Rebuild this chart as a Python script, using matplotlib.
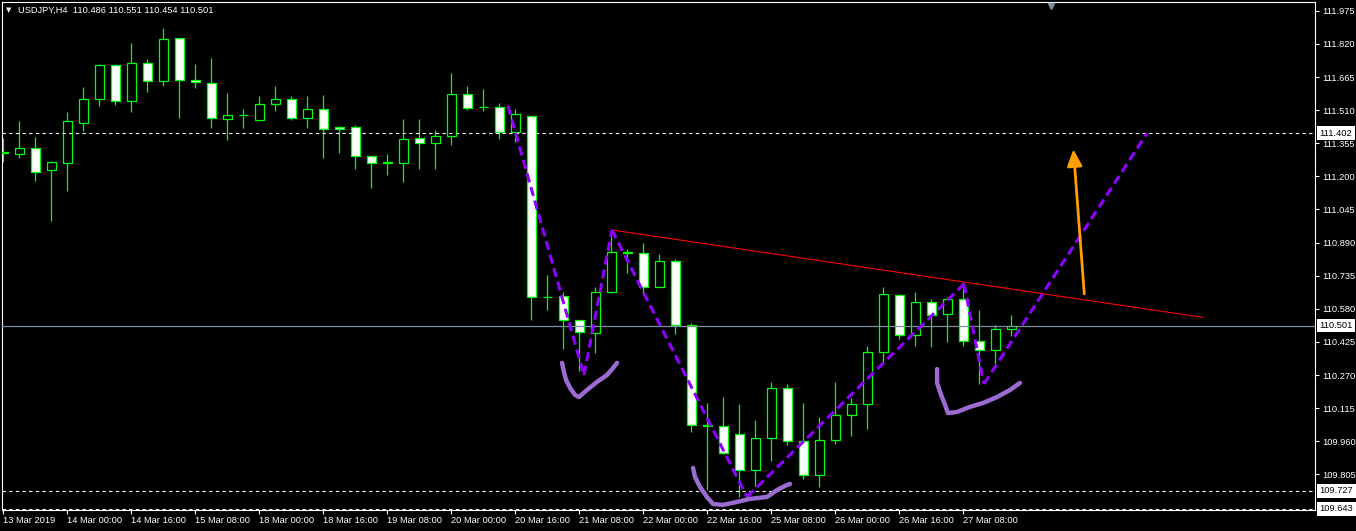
import numpy as np
import matplotlib.pyplot as plt
from matplotlib.transforms import blended_transform_factory

plt.rcParams['font.family'] = ['Liberation Sans', 'DejaVu Sans']

# USDJPY H4 bars (first bar = 13 Mar 2019 08:00)
opens = [111.310, 111.305, 111.333, 111.230, 111.263, 111.450, 111.563, 111.722,
         111.553, 111.731, 111.647, 111.848, 111.652, 111.638, 111.469, 111.488,
         111.464, 111.539, 111.563, 111.474, 111.516, 111.431, 111.431, 111.296,
         111.263, 111.263, 111.380, 111.357, 111.389, 111.586, 111.525, 111.525,
         111.408, 111.483, 110.636, 110.640, 110.528, 110.467, 110.659, 110.846,
         110.842, 110.682, 110.804, 110.504, 110.036, 110.032, 109.994, 109.826,
         109.975, 110.210, 109.961, 109.802, 109.966, 110.083, 110.135, 110.378,
         110.645, 110.458, 110.612, 110.556, 110.626, 110.430, 110.387, 110.486]
highs = [111.380, 111.460, 111.385, 111.272, 111.502, 111.619, 111.724, 111.724,
         111.825, 111.750, 111.895, 111.848, 111.726, 111.755, 111.591, 111.516,
         111.577, 111.623, 111.577, 111.577, 111.581, 111.436, 111.441, 111.296,
         111.305, 111.469, 111.469, 111.417, 111.684, 111.623, 111.609, 111.544,
         111.516, 111.483, 110.739, 110.659, 110.528, 110.682, 110.949, 110.860,
         110.888, 110.837, 110.814, 110.514, 110.139, 110.167, 110.135, 110.060,
         110.238, 110.228, 110.139, 110.074, 110.238, 110.163, 110.406, 110.682,
         110.650, 110.659, 110.626, 110.636, 110.706, 110.575, 110.504, 110.551]
lows = [111.268, 111.286, 111.179, 110.991, 111.132, 111.413, 111.530, 111.535,
        111.502, 111.595, 111.623, 111.474, 111.614, 111.427, 111.371, 111.427,
        111.464, 111.506, 111.464, 111.427, 111.286, 111.310, 111.235, 111.146,
        111.207, 111.174, 111.235, 111.235, 111.347, 111.511, 111.506, 111.375,
        111.361, 110.528, 110.575, 110.392, 110.289, 110.373, 110.654, 110.748,
        110.645, 110.682, 110.462, 110.004, 109.732, 109.900, 109.699, 109.751,
        109.868, 109.940, 109.783, 109.746, 109.947, 109.985, 110.018, 110.327,
        110.439, 110.406, 110.401, 110.425, 110.406, 110.228, 110.317, 110.454]
closes = [111.314, 111.333, 111.221, 111.268, 111.460, 111.563, 111.722, 111.553,
          111.731, 111.647, 111.844, 111.652, 111.642, 111.474, 111.488, 111.488,
          111.539, 111.563, 111.474, 111.516, 111.422, 111.422, 111.296, 111.263,
          111.268, 111.375, 111.357, 111.389, 111.586, 111.520, 111.525, 111.408,
          111.492, 110.636, 110.636, 110.528, 110.472, 110.659, 110.846, 110.842,
          110.682, 110.804, 110.504, 110.036, 110.032, 109.905, 109.826, 109.975,
          110.210, 109.961, 109.802, 109.966, 110.083, 110.135, 110.378, 110.650,
          110.458, 110.612, 110.551, 110.626, 110.430, 110.387, 110.486, 110.501]

time_labels = ['13 Mar 2019', '14 Mar 00:00', '14 Mar 16:00', '15 Mar 08:00',
               '18 Mar 00:00', '18 Mar 16:00', '19 Mar 08:00', '20 Mar 00:00',
               '20 Mar 16:00', '21 Mar 08:00', '22 Mar 00:00', '22 Mar 16:00',
               '25 Mar 08:00', '26 Mar 00:00', '26 Mar 16:00', '27 Mar 08:00']
price_ticks = [111.975, 111.820, 111.665, 111.510, 111.355, 111.200, 111.045,
               110.890, 110.735, 110.580, 110.425, 110.270, 110.115, 109.960, 109.805]

# drawn objects (bar index, price)
zigzag_x = [31.54, 36.29, 38.04, 46.48, 60.04, 61.29, 71.48]
zigzag_p = [111.530, 110.270, 110.949, 109.699, 110.696, 110.228, 111.402]
neck_x = [38.04, 74.96]
neck_p = [110.949, 110.540]
arrow_from = (67.56, 110.650)
arrow_to = (66.88, 111.327)
brush1 = [(34.92, 110.327), (35.04, 110.284), (35.17, 110.247), (35.42, 110.210),
          (35.73, 110.177), (35.98, 110.167), (36.48, 110.200), (37.11, 110.238),
          (37.73, 110.270), (38.11, 110.303), (38.36, 110.327)]
brush2 = [(43.11, 109.835), (43.23, 109.793), (43.54, 109.746), (43.98, 109.699),
          (44.36, 109.666), (44.98, 109.662), (45.86, 109.676), (46.67, 109.690),
          (47.73, 109.699), (48.36, 109.732), (48.98, 109.755), (49.17, 109.760)]
brush3 = [(58.36, 110.298), (58.36, 110.233), (58.61, 110.177), (58.86, 110.130),
          (59.04, 110.092), (59.61, 110.097), (60.42, 110.121), (61.23, 110.139),
          (62.11, 110.167), (62.92, 110.200), (63.54, 110.233)]
dashed_levels = [111.402, 109.727, 109.643]
bid = 110.501

W, H = 1356, 531
fig = plt.figure(figsize=(W / 100, H / 100), dpi=100, facecolor='black')
ax = fig.add_axes([2.3 / W, (H - 510) / H, (1315 - 2.3) / W, (510 - 2.3) / H],
                  facecolor='black')

idx = np.arange(len(opens))
o = np.array(opens)
c = np.array(closes)
bull = c >= o
ax.vlines(idx, lows, highs, color='#00ff00', lw=0.9, zorder=2)
ax.bar(idx, np.abs(c - o), bottom=np.minimum(o, c), width=0.6,
       color=np.where(bull, 'black', 'white'), edgecolor='#00ff00',
       linewidth=0.9, zorder=3)

for lvl in dashed_levels:
    ax.axhline(lvl, color='white', lw=0.8, ls=(0, (3, 3)), zorder=4)
ax.axhline(bid, color='#7f8fa0', lw=0.9, zorder=4)

# pattern drawings
for i in range(len(zigzag_x) - 1):
    ax.plot(zigzag_x[i:i + 2], zigzag_p[i:i + 2], color='#8f00ff', lw=2.2,
            ls=(0, (3, 1.6)), zorder=6)
ax.plot(neck_x, neck_p, color='#ff0000', lw=0.8, zorder=5)
ax.annotate('', xy=arrow_to, xytext=arrow_from,
            arrowprops=dict(arrowstyle='-|>,head_length=1.0,head_width=0.45',
                            color='#ffa000', lw=2, shrinkA=0, shrinkB=0),
            zorder=6)
for br in (brush1, brush2, brush3):
    bx, bp = zip(*br)
    ax.plot(bx, bp, color='#9a6bd0', lw=3.2, solid_capstyle='round',
            solid_joinstyle='round', zorder=6)

ax.set_xlim(-0.0625, 81.98)
ax.set_ylim(109.638, 112.015)

ax.set_xticks(np.arange(0, len(opens), 4))
ax.set_xticklabels(time_labels, ha='left')
ax.yaxis.tick_right()
ax.set_yticks(price_ticks)
ax.set_yticklabels([f'{v:.3f}' for v in price_ticks])
ax.tick_params(axis='x', colors='white', length=3, width=0.8, pad=1.5, labelsize=6.7)
ax.tick_params(axis='y', colors='white', length=3, width=0.8, pad=2.5, labelsize=6.7)
for s in ax.spines.values():
    s.set_color('white')
    s.set_linewidth(0.8)

# price labels of the horizontal lines
trans = blended_transform_factory(ax.transAxes, ax.transData)
for lvl in dashed_levels + [bid]:
    ax.text(1.0035, lvl, f'{lvl:.3f}', transform=trans, va='center', ha='left',
            color='black', fontsize=6.7, clip_on=False, zorder=7,
            bbox=dict(boxstyle='square,pad=0.25', fc='white', ec='none'))

# chart header and shift marker
fig.text(6 / W, 1 - 10.5 / H, '\u25bc', color='white', fontsize=5, va='center',
         family=['DejaVu Sans'])
fig.text(18 / W, 1 - 10.5 / H, 'USDJPY,H4  110.486 110.551 110.454 110.501',
         color='white', fontsize=6.7, va='center')
ax.plot([0.7987], [0.993], marker='v', ms=5, color='#8090a0',
        transform=ax.transAxes, clip_on=False, zorder=7)

plt.savefig('out.png', dpi=100, facecolor='black')
